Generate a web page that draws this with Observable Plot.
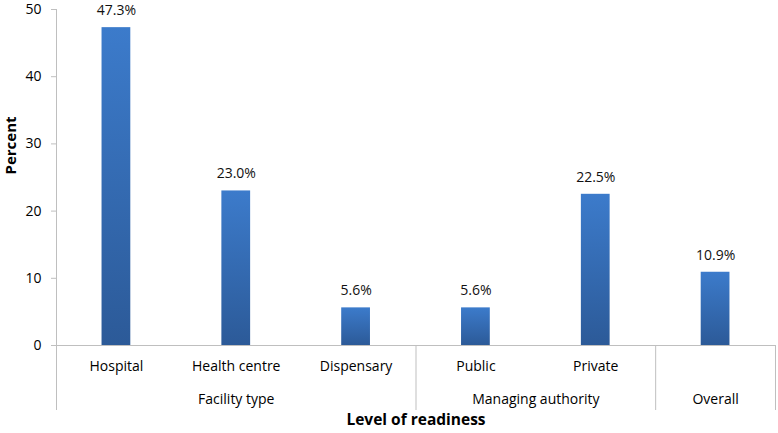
<!DOCTYPE html>
<html>
<head>
<meta charset="utf-8">
<script src="https://cdn.jsdelivr.net/npm/d3@7"></script>
<script src="https://cdn.jsdelivr.net/npm/@observablehq/plot@0.6"></script>
<style>
  html, body { margin: 0; padding: 0; background: #fff; }
  #chart svg { display: block; }
</style>
</head>
<body>
<div id="chart"></div>
<script>
// ---- data ----
const categories = ["Hospital", "Health centre", "Dispensary", "Public", "Private", "Overall"];
const categoryLabels = ["Hospital", "Health centre", "Dispensary", "Public", "Private", ""];
const values = [47.3, 23.0, 5.6, 5.6, 22.5, 10.9];
const groups = ["Facility type", "Managing authority", "Overall"];
const groupSizes = [3, 2, 1];
const yTicks = [0, 10, 20, 30, 40, 50];
const yTitle = "Percent";
const xTitle = "Level of readiness";

// ---- derived tables ----
const rows = categories.map((c, i) => ({category: c, label: categoryLabels[i], value: values[i], pos: i + 0.5}));
let acc = 0;
const groupRows = groups.map((g, i) => {
  const start = acc; acc += groupSizes[i];
  return {group: g, start, end: acc, mid: (start + acc) / 2};
});
const innerBounds = groupRows.map(d => d.end);

const gridGray = "#bfbfbf";
const halfBar = 0.12;

const chart = Plot.plot({
  width: 778,
  height: 433,
  marginTop: 9,
  marginBottom: 88,
  marginLeft: 56,
  marginRight: 3,
  style: {fontFamily: "'Open Sans', sans-serif", fontSize: "14px", color: "#000", background: "#fff"},
  x: {type: "linear", domain: [0, categories.length], axis: null},
  y: {domain: [0, 50], axis: null},
  marks: [
    Plot.ruleY([0], {stroke: gridGray}),
    Plot.ruleX([0], {stroke: gridGray, insetBottom: -65}),
    Plot.ruleX(innerBounds, {x: d => d, y1: 0, y2: 0, stroke: gridGray, insetBottom: -65}),
    Plot.axisY({ticks: yTicks, tickSize: 5, tickPadding: 10, stroke: gridGray, fill: "#000", fontSize: 14, label: null}),
    Plot.rectY(rows, {x1: d => d.pos - halfBar, x2: d => d.pos + halfBar, y: "value", fill: "url(#barGrad)", className: "bar"}),
    Plot.text(rows, {x: "pos", y: "value", text: d => d.value.toFixed(1) + "%", dy: -17, fontSize: 14, fill: "#111"}),
    Plot.axisX({ticks: rows.map(d => d.pos), tickFormat: p => categoryLabels[Math.floor(p)], tickSize: 0, tickPadding: 16, fontSize: 14, fill: "#000", label: null}),
    Plot.axisX({ticks: groupRows.map(d => d.mid), tickFormat: p => groupRows.find(g => g.mid === p).group, tickSize: 0, tickPadding: 49, fontSize: 14, fill: "#000", label: null}),
    Plot.text([xTitle], {frameAnchor: "bottom", dy: 79, fontSize: 15.5, fontWeight: "bold", fill: "#000"}),
    Plot.text([yTitle], {frameAnchor: "left", rotate: -90, dx: -45, dy: -3, fontSize: 15, fontWeight: "bold", fill: "#000"})
  ]
});

// gradient for bars
const ns = "http://www.w3.org/2000/svg";
const defs = document.createElementNS(ns, "defs");
const grad = document.createElementNS(ns, "linearGradient");
grad.setAttribute("id", "barGrad");
grad.setAttribute("x1", "0"); grad.setAttribute("y1", "0");
grad.setAttribute("x2", "0"); grad.setAttribute("y2", "1");
[["0%", "#3c7bcb"], ["100%", "#2c5a98"]].forEach(([o, c]) => {
  const s = document.createElementNS(ns, "stop");
  s.setAttribute("offset", o); s.setAttribute("stop-color", c);
  grad.appendChild(s);
});
defs.appendChild(grad);
chart.insertBefore(defs, chart.firstChild);
d3.select(chart).selectAll("g.bar rect, .bar rect").attr("fill", "url(#barGrad)");

document.getElementById("chart").appendChild(chart);
</script>
</body>
</html>
